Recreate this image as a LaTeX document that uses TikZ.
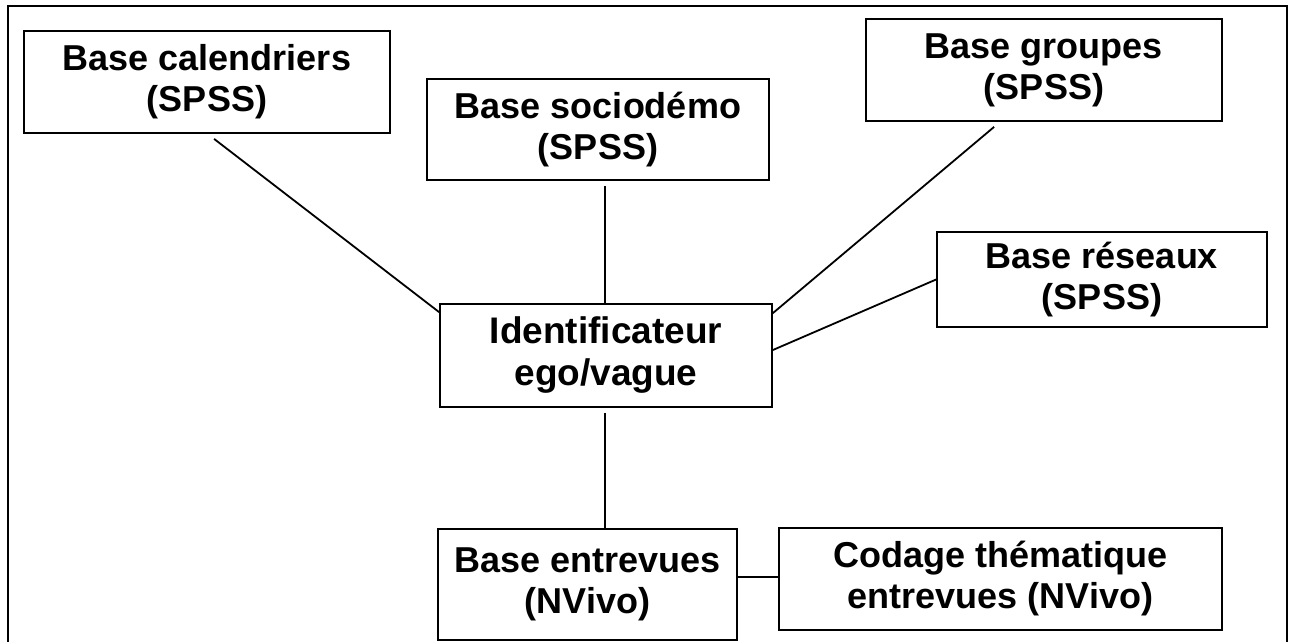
\documentclass[tikz,border=0pt]{standalone}
\usepackage{fontspec}
\setmainfont{Liberation Sans}
\usetikzlibrary{calc}
\begin{document}
\begin{tikzpicture}[x=1pt,y=-1pt,
  box/.style={draw, line width=1.8pt, align=center, inner sep=0pt,
    font=\fontsize{36}{41}\selectfont\bfseries},
  conn/.style={line width=1.8pt}]
\useasboundingbox (0,0) rectangle (1294,641);
\draw[line width=1.8pt] (8,650) -- (8,6) -- (1287,6) -- (1287,650);

\node[box, minimum width=366pt, minimum height=102pt] (cal) at (207,82) {Base calendriers\\(SPSS)};
\node[box, minimum width=342pt, minimum height=101pt] (socio) at (598,129.5) {Base sociodémo\\(SPSS)};
\node[box, minimum width=356pt, minimum height=102pt] (groupes) at (1044,70) {Base groupes\\(SPSS)};
\node[box, minimum width=330pt, minimum height=95pt] (reseaux) at (1102,279.5) {Base réseaux\\(SPSS)};
\node[box, minimum width=332pt, minimum height=103pt, font=\fontsize{37}{42}\selectfont\bfseries] (ident) at (606,355.5) {Identificateur\\ego/vague};
\node[box, minimum width=299pt, minimum height=111pt] (entrevues) at (587.5,584.5) {Base entrevues\\(NVivo)};
\node[box, minimum width=443pt, minimum height=102pt] (codage) at (1000.5,579) {Codage thématique\\entrevues (NVivo)};

\draw[conn] ($(cal.south west)+(191,5)$) -- ($(ident.north west)+(0,9)$);
\draw[conn] ($(socio.south)+(7,5)$) -- ($(ident.north)+(-1,0)$);
\draw[conn] ($(groupes.south west)+(129,5)$) -- ($(ident.north east)+(0,10)$);
\draw[conn] (reseaux.west) -- ($(ident.east)+(0,-5.5)$);
\draw[conn] ($(ident.south)+(-1,5)$) -- ($(entrevues.north)+(17.5,0)$);
\draw[conn] ($(entrevues.east)+(0,-7.5)$) -- ($(codage.west)+(0,-2)$);
\end{tikzpicture}
\end{document}
